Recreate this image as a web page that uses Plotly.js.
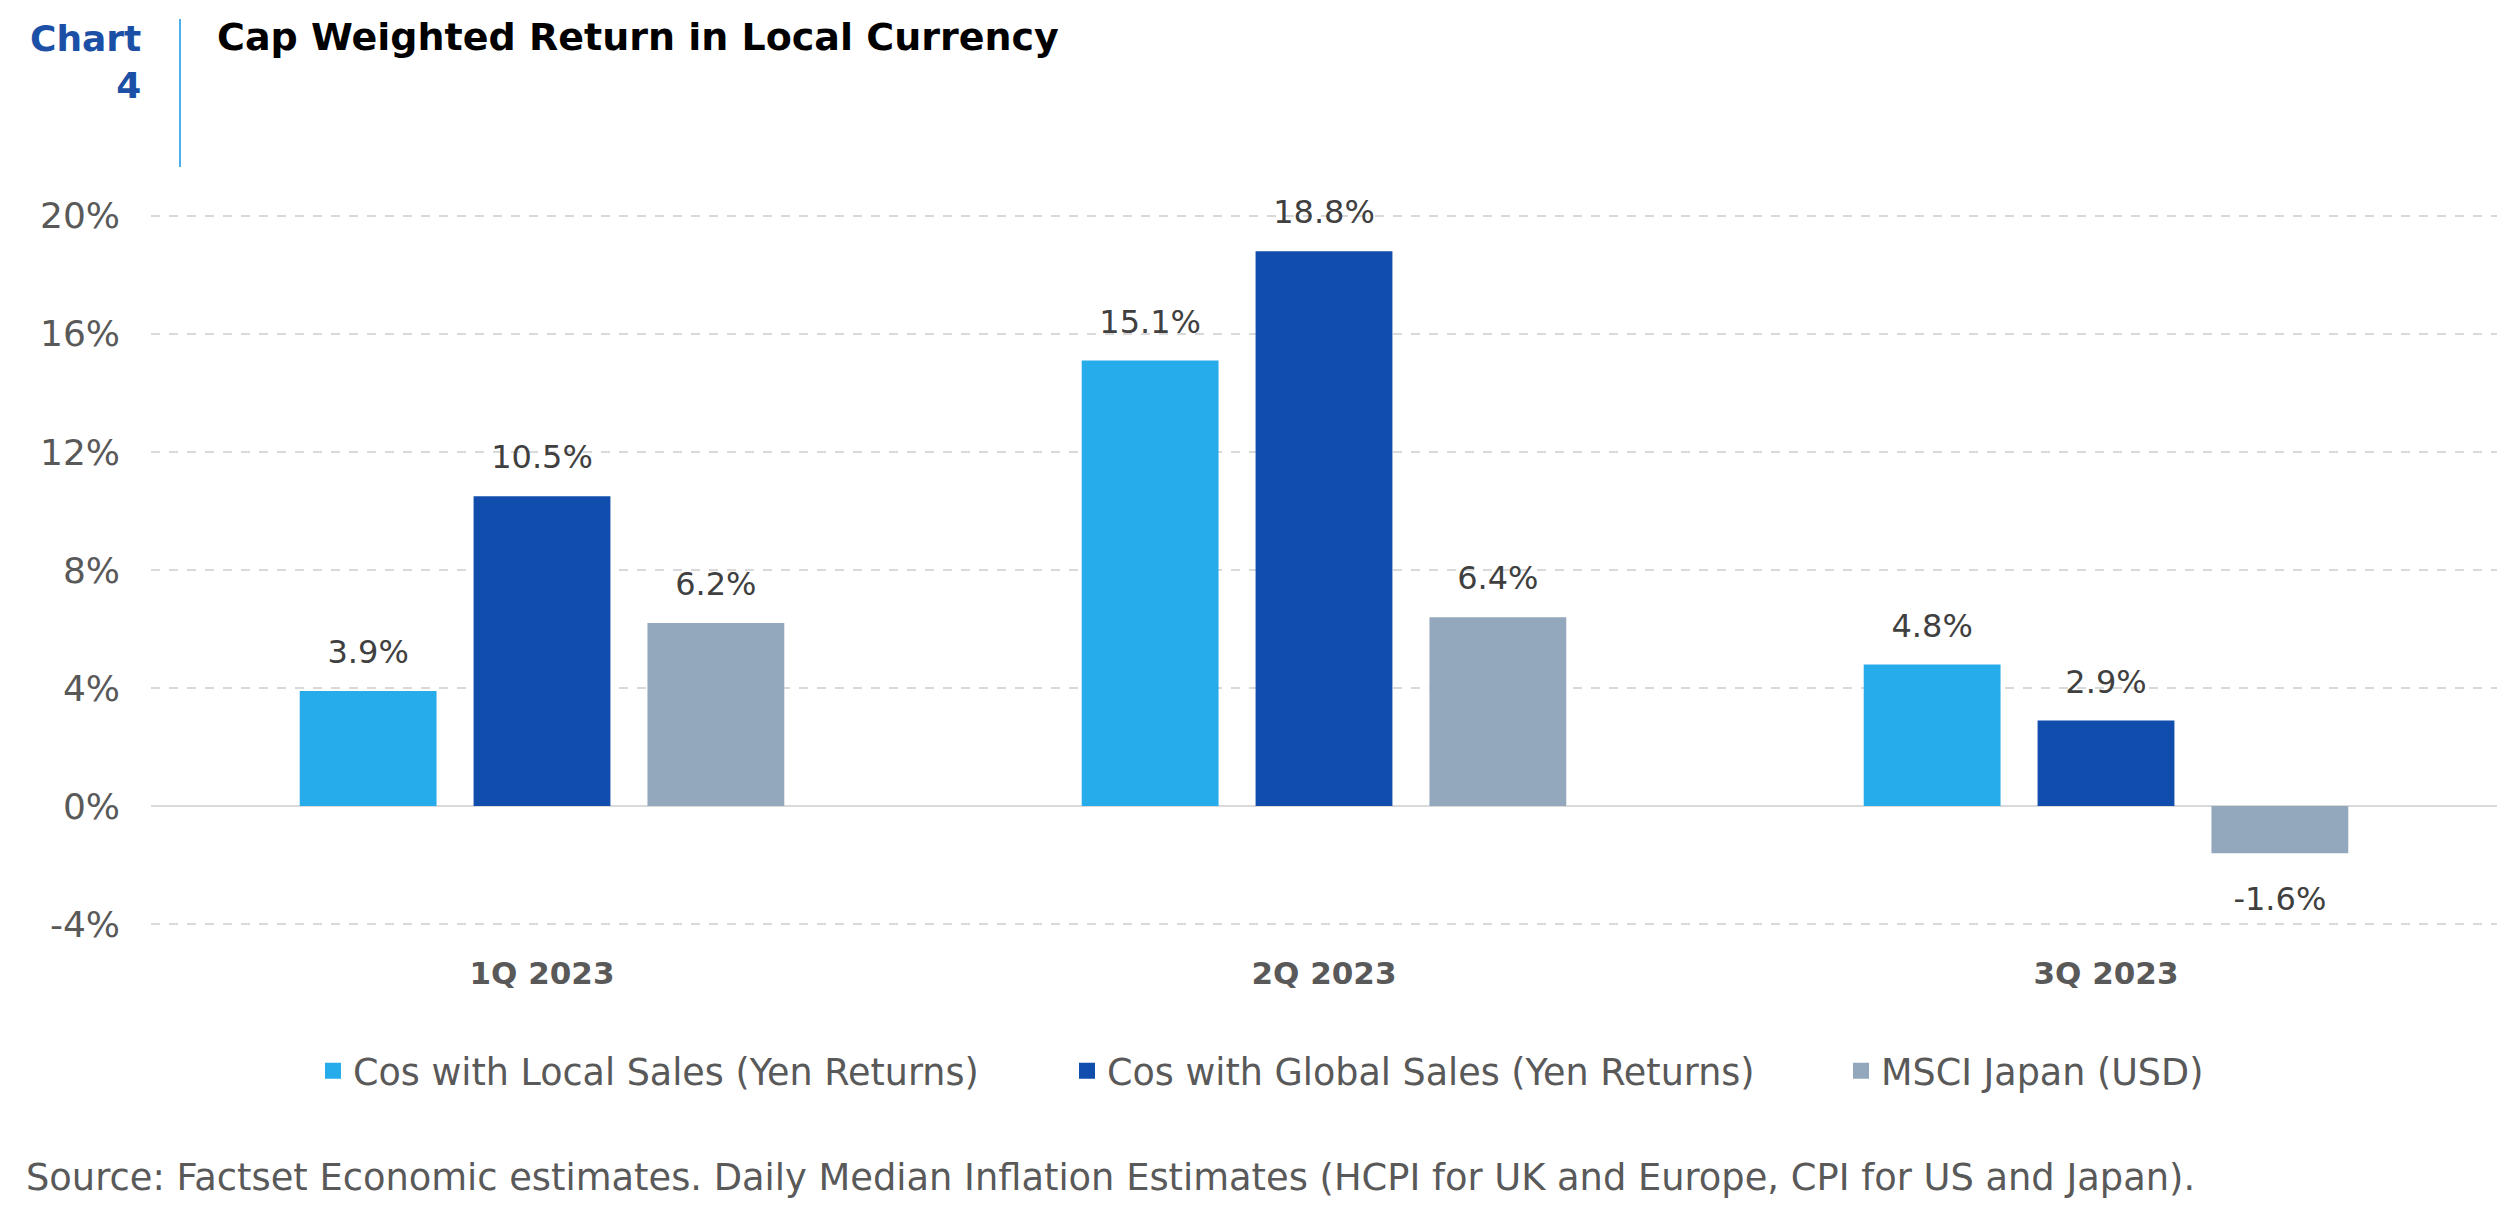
<!DOCTYPE html>
<html>
<head>
<meta charset="utf-8">
<script src="https://cdn.plot.ly/plotly-3.0.1.min.js"></script>
<style>html,body{margin:0;padding:0;background:#fff;}#chart{width:2498px;height:1230px;}</style>
</head>
<body>
<div id="chart"></div>
<script>
var quarters = ['1Q 2023', '2Q 2023', '3Q 2023'];
var seriesNames = ['Cos with Local Sales (Yen Returns)', 'Cos with Global Sales (Yen Returns)', 'MSCI Japan (USD)'];
var localSales = [3.9, 15.1, 4.8];
var globalSales = [10.5, 18.8, 2.9];
var msciJapan = [6.2, 6.4, -1.6];
var yTicks = [-4, 0, 4, 8, 12, 16, 20];
var colors = ['#26ABEB', '#114DAC', '#94A8BD'];

var FONT = 'DejaVu Sans, sans-serif';
var values = [localSales, globalSales, msciJapan];
var legendIds = ['legend', 'legend2', 'legend3'];

var traces = [];
values.forEach(function (vals, i) {
  traces.push({
    type: 'bar', name: seriesNames[i], x: quarters, y: vals,
    marker: {color: colors[i]}, showlegend: false,
    hoverinfo: 'skip', offsetgroup: 'g' + i
  });
});
values.forEach(function (vals, i) {
  traces.push({
    type: 'scatter', mode: 'markers+text', x: quarters, y: vals,
    marker: {size: vals.map(function (v) { return v >= 0 ? 30 : 50; }), opacity: 0, color: colors[i]},
    text: vals.map(function (v) { return v.toFixed(1) + '%'; }),
    textposition: vals.map(function (v) { return v >= 0 ? 'top center' : 'bottom center'; }),
    textfont: {family: FONT, size: 32, color: '#404040'},
    showlegend: false, hoverinfo: 'skip', cliponaxis: false, offsetgroup: 'g' + i
  });
});
// legend-only entries (no data points drawn)
values.forEach(function (vals, i) {
  traces.push({
    type: 'scatter', mode: 'markers', name: seriesNames[i], x: [null], y: [null],
    marker: {symbol: 'square', size: 20, color: colors[i]},
    legend: legendIds[i], showlegend: true, hoverinfo: 'skip'
  });
});

function legendAt(xc) {
  return {orientation: 'h', xref: 'container', yref: 'container', x: xc, y: 1 - 1071 / 1230,
    xanchor: 'left', yanchor: 'middle', bgcolor: 'rgba(0,0,0,0)',
    font: {family: FONT, size: 36.5, color: '#595959'}};
}

var layout = {
  width: 2498, height: 1230,
  margin: {l: 151, r: 1, t: 204, b: 300, pad: 0},
  paper_bgcolor: '#ffffff', plot_bgcolor: '#ffffff',
  font: {family: FONT, color: '#595959'},
  barmode: 'group', bargap: 0.333, bargroupgap: 0.213,
  scattermode: 'group', scattergap: 0.333,
  title: {text: '<b>Cap Weighted Return in Local Currency</b>', xref: 'container', yref: 'container',
    x: 217 / 2498, xanchor: 'left', y: 1 - 37 / 1230, yanchor: 'middle',
    font: {family: FONT, size: 38, color: '#000000'}},
  xaxis: {type: 'category', range: [-0.5, 2.5], showgrid: false, ticks: '', showline: false,
    tickfont: {family: FONT, size: 31, color: '#595959', weight: 'bold'}, ticklabelstandoff: 22},
  yaxis: {range: [-4.2, 20.4], tickvals: yTicks, ticktext: yTicks.map(function (v) { return v + '%'; }),
    showgrid: true, gridcolor: '#D9D9D9', griddash: 'dash', gridwidth: 1.5,
    zeroline: true, zerolinecolor: '#D9D9D9', zerolinewidth: 2.5, showline: false, ticks: '',
    tickfont: {family: FONT, size: 36, color: '#595959'}, ticklabelstandoff: 30},
  legend: legendAt((353 - 40) / 2498),
  legend2: legendAt((1107 - 40) / 2498),
  legend3: legendAt((1881 - 40) / 2498),
  shapes: [{type: 'line', xref: 'paper', yref: 'paper', x0: 29 / 2346, x1: 29 / 2346,
    y0: (930 - 167) / 726, y1: (930 - 19) / 726, line: {color: '#4DB1E8', width: 2}}],
  annotations: [
    {text: '<b>Chart<br>4</b>', xref: 'paper', yref: 'paper', x: -8 / 2346, y: (930 - 62) / 726,
      xanchor: 'right', yanchor: 'middle', align: 'right', showarrow: false,
      font: {family: FONT, size: 36, color: '#1C50A6'}},
    {text: 'Source: Factset Economic estimates. Daily Median Inflation Estimates (HCPI for UK and Europe, CPI for US and Japan).',
      xref: 'paper', yref: 'paper', x: (24 - 151) / 2346, y: (930 - 1177) / 726,
      xanchor: 'left', yanchor: 'middle', showarrow: false,
      font: {family: FONT, size: 36.8, color: '#595959'}}
  ]
};

Plotly.newPlot('chart', traces, layout, {displayModeBar: false, staticPlot: true});
</script>
</body>
</html>
